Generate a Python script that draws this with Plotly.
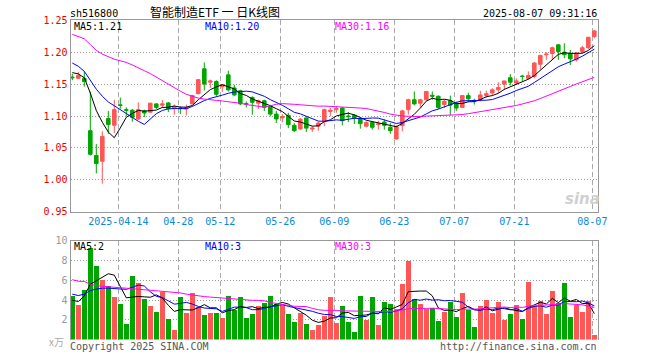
import plotly.graph_objects as go

# ---------------- data ----------------
month_days = {
    "04": ["01", "02", "03", "07", "08", "09", "10", "11", "14", "15", "16", "17", "18", "21", "22", "23", "24", "25", "28", "29", "30"],
    "05": ["06", "07", "08", "09", "12", "13", "14", "15", "16", "19", "20", "21", "22", "23", "26", "27", "28", "29", "30"],
    "06": ["03", "04", "05", "06", "09", "10", "11", "12", "13", "16", "17", "18", "19", "20", "23", "24", "25", "26", "27", "30"],
    "07": ["01", "02", "03", "04", "07", "08", "09", "10", "11", "14", "15", "16", "17", "18", "21", "22", "23", "24", "25", "28", "29", "30", "31"],
    "08": ["01", "04", "05", "06", "07"],
}
dates = [f"2025-{m}-{d}" for m, ds in month_days.items() for d in ds]

opens = [1.161, 1.159, 1.159, 1.077, 1.038, 1.029, 1.096, 1.0854, 1.1175, 1.110,
         1.109, 1.0953, 1.108, 1.106, 1.119, 1.117, 1.1205, 1.112, 1.1125, 1.111,
         1.119, 1.135, 1.174, 1.153, 1.154, 1.146, 1.1645, 1.144, 1.1396, 1.1195,
         1.129, 1.120, 1.124, 1.115, 1.103, 1.097, 1.101, 1.0854, 1.0797, 1.097,
         1.0795, 1.084, 1.092, 1.107, 1.110, 1.1125, 1.100, 1.101, 1.0953, 1.084,
         1.090, 1.0865, 1.0906, 1.0823, 1.064, 1.085, 1.110, 1.1255, 1.120, 1.1255,
         1.1325, 1.131, 1.118, 1.124, 1.120, 1.1135, 1.132, 1.1245, 1.1255, 1.132,
         1.136, 1.141, 1.150, 1.160, 1.1516, 1.1625, 1.159, 1.162, 1.181, 1.196,
         1.198, 1.2115, 1.200, 1.198, 1.188, 1.201, 1.207, 1.2245]
highs = [1.166, 1.169, 1.170, 1.138, 1.056, 1.076, 1.108, 1.1255, 1.129, 1.1135,
         1.111, 1.1214, 1.110, 1.121, 1.120, 1.125, 1.122, 1.118, 1.115, 1.118,
         1.133, 1.158, 1.184, 1.157, 1.156, 1.150, 1.171, 1.149, 1.141, 1.123,
         1.131, 1.1255, 1.1255, 1.1175, 1.108, 1.103, 1.105, 1.089, 1.097, 1.098,
         1.084, 1.091, 1.1115, 1.1125, 1.115, 1.1135, 1.106, 1.103, 1.097, 1.0917,
         1.0917, 1.0927, 1.095, 1.089, 1.085, 1.110, 1.127, 1.1385, 1.127, 1.139,
         1.1385, 1.132, 1.1255, 1.132, 1.1225, 1.133, 1.1365, 1.127, 1.1396, 1.1396,
         1.1435, 1.153, 1.155, 1.1656, 1.159, 1.1646, 1.170, 1.1846, 1.196, 1.200,
         1.2086, 1.213, 1.214, 1.2036, 1.2005, 1.210, 1.224, 1.235]
lows = [1.156, 1.158, 1.146, 1.038, 1.010, 0.994, 1.072, 1.0734, 1.1115, 1.100,
        1.091, 1.094, 1.098, 1.105, 1.111, 1.1125, 1.106, 1.102, 1.103, 1.101,
        1.118, 1.134, 1.140, 1.144, 1.131, 1.138, 1.1385, 1.131, 1.117, 1.1135,
        1.102, 1.111, 1.108, 1.0995, 1.089, 1.090, 1.081, 1.075, 1.0786, 1.075,
        1.075, 1.077, 1.084, 1.0995, 1.105, 1.0854, 1.0906, 1.0875, 1.080, 1.082,
        1.0786, 1.0786, 1.0786, 1.072, 1.063, 1.076, 1.102, 1.1167, 1.1135, 1.124,
        1.1255, 1.111, 1.1125, 1.101, 1.108, 1.1125, 1.122, 1.118, 1.123, 1.1286,
        1.1325, 1.136, 1.141, 1.148, 1.149, 1.155, 1.157, 1.159, 1.173, 1.188,
        1.188, 1.188, 1.1906, 1.180, 1.1854, 1.198, 1.205, 1.222]
closes = [1.160, 1.1635, 1.154, 1.040, 1.0255, 1.068, 1.0865, 1.110, 1.1165, 1.109,
          1.098, 1.110, 1.1047, 1.120, 1.1135, 1.119, 1.1115, 1.114, 1.112, 1.1125,
          1.132, 1.157, 1.150, 1.155, 1.134, 1.149, 1.141, 1.133, 1.119, 1.119,
          1.1214, 1.124, 1.1135, 1.103, 1.0953, 1.099, 1.0865, 1.077, 1.095, 1.081,
          1.081, 1.089, 1.110, 1.109, 1.1115, 1.0927, 1.099, 1.097, 1.088, 1.090,
          1.0823, 1.0875, 1.0854, 1.077, 1.0839, 1.108, 1.1255, 1.119, 1.1255, 1.1385,
          1.131, 1.1135, 1.123, 1.117, 1.1125, 1.132, 1.127, 1.124, 1.133, 1.135,
          1.141, 1.1448, 1.155, 1.153, 1.155, 1.162, 1.1635, 1.183, 1.195, 1.197,
          1.207, 1.201, 1.196, 1.1896, 1.198, 1.207, 1.2234, 1.2333]
volumes = [4.38, 3.54, 5.05, 9.26, 7.47, 6.06, 5.45, 4.34, 3.64, 1.62,
           6.46, 5.76, 4.14, 3.43, 2.83, 4.85, 2.12, 1.01, 4.34, 2.73,
           4.75, 3.33, 2.53, 2.73, 2.73, 2.22, 4.44, 3.03, 4.34, 2.22,
           2.63, 3.43, 3.74, 4.44, 3.64, 3.54, 2.63, 1.82, 2.73, 1.62,
           1.01, 1.52, 2.42, 4.34, 1.72, 3.43, 1.82, 0.81, 4.44, 1.95,
           4.34, 1.52, 3.84, 3.64, 3.13, 5.66, 7.98, 4.14, 3.64, 3.13,
           3.23, 1.92, 2.83, 3.84, 2.32, 4.75, 3.03, 1.31, 3.43, 4.04,
           2.73, 3.84, 2.02, 2.63, 3.54, 2.12, 5.86, 3.43, 3.94, 2.63,
           4.95, 3.74, 5.76, 2.32, 3.54, 2.83, 3.94, 0.51]

# moving-average values for the first days (they depend on earlier sessions)
ma5_head = [1.168, 1.166, 1.160, 1.136]
ma10_head = [1.183, 1.178, 1.170, 1.155, 1.142, 1.131, 1.122, 1.116, 1.110]
ma30_head = [1.228, 1.225, 1.221, 1.212, 1.203, 1.197, 1.1925, 1.189, 1.1865, 1.184,
             1.180, 1.176, 1.171, 1.1665, 1.161, 1.155, 1.149, 1.144, 1.139, 1.134,
             1.131, 1.128, 1.1265, 1.125, 1.1245, 1.1235, 1.1225, 1.121, 1.120]
vma5_head = [3.98, 3.85, 4.4, 5.6]
vma10_head = [4.6, 4.45, 4.6, 4.95, 5.1, 5.2, 5.2, 5.15, 5.1]
vma30_head = [6.06, 5.9, 5.88, 5.6, 5.45, 5.38, 5.32, 5.28, 5.24, 5.2,
              5.15, 5.1, 5.04, 4.98, 4.93, 4.87, 4.83, 4.79, 4.72, 4.6,
              4.5, 4.4, 4.35, 4.3, 4.25, 4.18, 4.12, 4.08, 4.04]

tick_dates = ["2025-04-14", "2025-04-28", "2025-05-12", "2025-05-26", "2025-06-09",
              "2025-06-23", "2025-07-07", "2025-07-21", "2025-08-07"]
tick_text = ["2025-04-14", "04-28", "05-12", "05-26", "06-09", "06-23", "07-07", "07-21", "08-07"]

price_ticks = [0.95, 1.00, 1.05, 1.10, 1.15, 1.20, 1.25]
vol_ticks = [2, 4, 6, 8, 10]

title_code = "sh516800"
title_name = "智能制造ETF\u00a0一\u00a0日K线图"
timestamp = "2025-08-07 09:31:16"
ma_labels = ["MA5:1.21", "MA10:1.20", "MA30:1.16"]
vma_labels = ["MA5:2", "MA10:3", "MA30:3"]


def moving_avg(vals, n, head):
    out = []
    for i in range(len(vals)):
        if i < n - 1:
            out.append(head[i])
        else:
            out.append(sum(vals[i - n + 1:i + 1]) / n)
    return out


# ---------------- style ----------------
W, H = 660, 360
RED = "#ff5656"
GREEN = "#00a600"
MONO = "DejaVu Sans Mono"
X_L, X_R = 70.5, 597.5
P_TOP, P_BOT = 20.3, 211.7
V_TOP, V_BOT = 240.7, 339.6


def px(x):
    return x / W


def py(y):
    return 1 - y / H


n = len(dates)
xs = list(range(n))
tickvals = [dates.index(d) - 0.33 for d in tick_dates]
vol_colors = [RED if c >= o else GREEN for o, c in zip(opens, closes)]

fig = go.Figure()

fig.add_trace(go.Candlestick(
    x=xs, open=opens, high=highs, low=lows, close=closes,
    increasing=dict(line=dict(color=RED, width=1), fillcolor=RED),
    decreasing=dict(line=dict(color=GREEN, width=1), fillcolor=GREEN),
    whiskerwidth=0, xaxis="x", yaxis="y", showlegend=False, hoverinfo="skip"))

for vals, n_, head, col in [(closes, 5, ma5_head, "#000000"),
                            (closes, 10, ma10_head, "#0000ff"),
                            (closes, 30, ma30_head, "#ff00ff")]:
    fig.add_trace(go.Scatter(x=xs, y=moving_avg(vals, n_, head), mode="lines",
                             line=dict(color=col, width=1), xaxis="x", yaxis="y",
                             showlegend=False, hoverinfo="skip"))

fig.add_trace(go.Bar(x=xs, y=volumes, marker=dict(color=vol_colors, line=dict(width=0)),
                     width=0.82, xaxis="x2", yaxis="y2", showlegend=False, hoverinfo="skip"))

for vals, n_, head, col in [(volumes, 5, vma5_head, "#000000"),
                            (volumes, 10, vma10_head, "#0000ff"),
                            (volumes, 30, vma30_head, "#ff00ff")]:
    fig.add_trace(go.Scatter(x=xs, y=moving_avg(vals, n_, head), mode="lines",
                             line=dict(color=col, width=1), xaxis="x2", yaxis="y2",
                             showlegend=False, hoverinfo="skip"))

xrange = [-0.3, 87.53]
common_x = dict(range=xrange, tickmode="array", tickvals=tickvals, ticktext=tick_text,
                showgrid=True, gridcolor="#aaaaaa", gridwidth=1, griddash="5px,3px",
                zeroline=False, ticks="", fixedrange=True, automargin=False)

fig.update_layout(
    width=W, height=H, margin=dict(l=0, r=0, t=0, b=0, pad=0, autoexpand=False),
    paper_bgcolor="white", plot_bgcolor="white", boxgap=0.15, bargap=0,
    showlegend=False,
    xaxis=dict(domain=[px(X_L), px(X_R)], anchor="y", rangeslider=dict(visible=False),
               showline=True, mirror=True, linecolor="#999999", linewidth=1,
               tickfont=dict(family=MONO, size=10, color="#0a88d8"), **common_x),
    yaxis=dict(domain=[py(P_BOT), py(P_TOP)], anchor="x", range=[0.95, 1.25],
               tickmode="array", tickvals=price_ticks, tickformat=".2f",
               showgrid=True, gridcolor="#999999", griddash="1px,2px", zeroline=False,
               showline=True, mirror=True, linecolor="#999999", linewidth=1, ticks="",
               tickfont=dict(family=MONO, size=10, color="#e80000"), fixedrange=True,
               automargin=False),
    xaxis2=dict(domain=[px(X_L), px(X_R)], anchor="y2", showticklabels=False,
                showline=True, side="top", mirror=False, linecolor="#999999", linewidth=1,
                **common_x),
    yaxis2=dict(domain=[py(V_BOT), py(V_TOP)], anchor="x2", range=[0, 10],
                tickmode="array", tickvals=vol_ticks,
                showgrid=True, gridcolor="#999999", griddash="1px,2px", zeroline=False,
                showline=True, mirror=True, linecolor="#999999", linewidth=1, ticks="",
                tickfont=dict(family=MONO, size=10, color="#999999"), fixedrange=True,
                automargin=False),
)


def note(text, x, y, color="#000000", size=10, family=MONO, xanchor="left", yanchor="middle"):
    fig.add_annotation(text=text, x=px(x), y=py(y), xref="paper", yref="paper",
                       showarrow=False, xanchor=xanchor, yanchor=yanchor, borderpad=0,
                       font=dict(family=family, size=size, color=color))


note(title_code, 69, 13.5)
note(title_name, 149, 11.5, size=12, family="Noto Sans CJK SC")
note(timestamp, 598, 13.5, xanchor="right")
note(ma_labels[0], 73, 26.5)
note(ma_labels[1], 204, 26.5, color="#0000ff")
note(ma_labels[2], 334, 26.5, color="#ff00ff")
note(vma_labels[0], 73, 246.5)
note(vma_labels[1], 204, 246.5, color="#0000ff")
note(vma_labels[2], 334, 246.5, color="#ff00ff")
note("x万", 48, 341, color="#aaaaaa", size=10, family="Noto Sans CJK SC")
note("Copyright 2025 SINA.COM", 69, 346, color="#555555")
note("http://finance.sina.com.cn", 598, 346, color="#555555", xanchor="right")
note("<b><i>sina</i></b>", 582, 199, color="#d0d0d0", size=15, family="DejaVu Sans", xanchor="center")

fig.write_html("out.html", config={"displayModeBar": False, "staticPlot": True},
               post_script="document.body.style.margin='0';")
